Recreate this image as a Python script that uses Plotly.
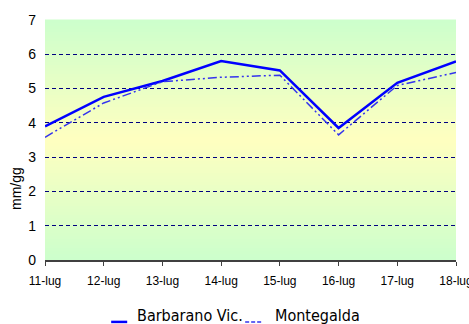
import plotly.graph_objects as go

# Daily evapotranspiration (mm/gg), 11-18 July
giorni = ["11-lug", "12-lug", "13-lug", "14-lug", "15-lug", "16-lug", "17-lug", "18-lug"]
barbarano = [3.90, 4.76, 5.22, 5.80, 5.53, 3.85, 5.17, 5.79]
montegalda = [3.58, 4.58, 5.20, 5.33, 5.39, 3.65, 5.09, 5.47]
y_ticks = [0, 1, 2, 3, 4, 5, 6, 7]
series_names = ["Barbarano Vic.", "Montegalda"]

narrow = "Liberation Sans Narrow, Arial Narrow, Liberation Sans, Arial, sans-serif"
legend_font = "DejaVu Sans Condensed, DejaVu Sans, Tahoma, sans-serif"

line_styles = [
    dict(color="#0000FF", width=2.5),
    dict(color="#3333EE", width=1.5, dash="9px,3px,2px,3px,2px,3px"),
]

fig = go.Figure()
for name, values, style in zip(series_names, [barbarano, montegalda], line_styles):
    fig.add_trace(go.Scatter(x=giorni, y=values, name=name, mode="lines",
                             line=style, showlegend=False))

# Vertical green -> yellow -> green gradient behind the plot area
def mix(c1, c2, t):
    return "rgb(%d,%d,%d)" % tuple(round(a + (b - a) * t) for a, b in zip(c1, c2))

green = (204, 255, 204)
yellow = (255, 255, 192)
n_bands = 80
shapes = []
for i in range(n_bands):
    y0 = i / n_bands
    y1 = (i + 1) / n_bands
    mid = (y0 + y1) / 2
    t = 1 - abs(mid - 0.5) * 2
    shapes.append(dict(
        type="rect", xref="paper", yref="paper", x0=0, x1=1, y0=y0, y1=y1 + 0.002,
        fillcolor=mix(green, yellow, t), line=dict(width=0), layer="below",
    ))

# Legend below the axis: short line sample sitting on the text baseline
legend_sample_x = [(0.161, 0.200), (0.487, 0.528)]
legend_text_x = [0.219, 0.555]
legend_line_y = -0.258
legend_text_y = -0.232
annotations = []
for name, (x0, x1), tx, style in zip(series_names, legend_sample_x, legend_text_x, line_styles):
    shapes.append(dict(type="line", xref="paper", yref="paper",
                       x0=x0, x1=x1, y0=legend_line_y, y1=legend_line_y,
                       line=dict(color=style["color"], width=style["width"],
                                 dash="4px,2px" if "dash" in style else None)))
    annotations.append(dict(text=name, xref="paper", yref="paper", x=tx, y=legend_text_y,
                            xanchor="left", yanchor="middle", showarrow=False,
                            font=dict(family=legend_font, size=16, color="#000000")))

annotations.append(dict(
    text="mm/gg", textangle=-90, xref="paper", yref="paper",
    x=-0.0706, y=0.30, xanchor="center", yanchor="middle", showarrow=False,
    font=dict(family=narrow, size=14, color="#000000"),
))

fig.update_layout(
    width=469, height=324,
    margin=dict(l=45, r=13, t=20, b=64, autoexpand=False),
    paper_bgcolor="white", plot_bgcolor="white",
    shapes=shapes,
    annotations=annotations,
)

fig.update_xaxes(
    type="category", range=[0, len(giorni) - 1],
    showgrid=False, zeroline=False,
    showline=True, linecolor="#404040", linewidth=1.5,
    ticks="outside", ticklen=4, tickcolor="#404040", tickwidth=1,
    tickfont=dict(family=narrow, size=12, color="#000000"),
    ticklabelstandoff=5,
)
fig.update_yaxes(
    range=[0, 7], tickvals=y_ticks, ticktext=[str(v) for v in y_ticks],
    showgrid=True, gridcolor="#000080", gridwidth=1, griddash="4px,3px",
    zeroline=False, showline=False, ticks="",
    tickfont=dict(family=narrow, size=14, color="#000000"),
    ticklabelstandoff=8,
)

fig.write_html("out.html")
